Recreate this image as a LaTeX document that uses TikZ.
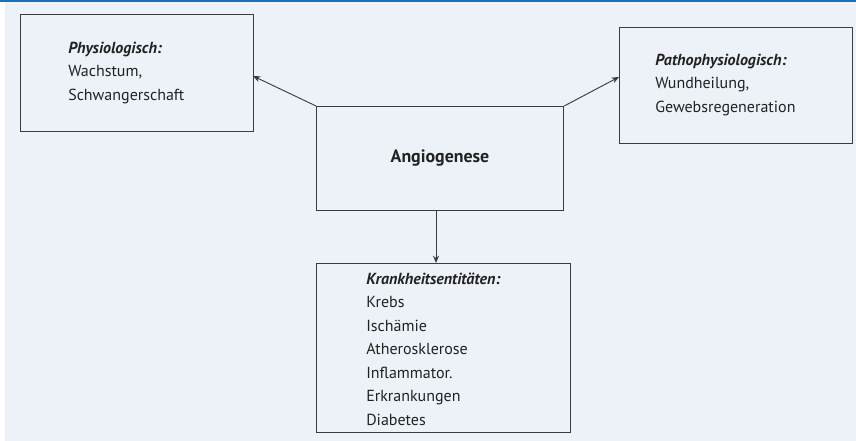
\documentclass[tikz,border=0pt]{standalone}
\usepackage{fontspec}
\setmainfont{PT Sans}
\usetikzlibrary{arrows.meta}
\definecolor{bgc}{HTML}{EDF2F9}
\definecolor{topc}{HTML}{1F6FB5}
\definecolor{linec}{HTML}{3C3C3C}
\definecolor{txtc}{HTML}{222222}
\tikzset{
  box/.style={draw=linec, line width=0.9pt, inner sep=0pt},
  lbl/.style={anchor=west, inner sep=0pt, text=txtc, font=\fontsize{12}{17.3}\selectfont, align=left},
  conn/.style={draw=linec, line width=0.7pt, -{Stealth[length=5.5pt,width=4.5pt]}}
}
\begin{document}
\begin{tikzpicture}[x=0.75pt,y=-0.75pt]
\useasboundingbox (0,0) rectangle (856,441);
\fill[white] (0,0) rectangle (856,441);
\fill[bgc] (5,0) rectangle (856,441);
\fill[topc] (0,0) rectangle (856,2);
% boxes
\node[box, minimum width=233*0.75pt, minimum height=117*0.75pt, anchor=north west] (phys) at (20,14) {};
\node[box, minimum width=247*0.75pt, minimum height=104*0.75pt, anchor=north west] (ang) at (316,106) {};
\node[box, minimum width=233*0.75pt, minimum height=116*0.75pt, anchor=north west] (path) at (619,27) {};
\node[box, minimum width=254*0.75pt, minimum height=169*0.75pt, anchor=north west] (kr) at (316,263) {};
% texts
\node[lbl] (tphys) at (68,73) {\textit{\textbf{Physiologisch:}}\\Wachstum,\\Schwangerschaft};
\node[lbl] (tpath) at (655,85) {\textit{\textbf{Pathophysiologisch:}}\\Wundheilung,\\Gewebsregeneration};
\node[inner sep=0pt, text=txtc, font=\fontsize{13.4}{17}\selectfont\bfseries] (tang) at (440,158) {Angiogenese};
\node[lbl, font=\fontsize{12}{17.6}\selectfont] (tkr) at (366,349) {\textit{\textbf{Krankheitsentitäten:}}\\Krebs\\Ischämie\\Atherosklerose\\Inflammator.\\Erkrankungen\\Diabetes};
% connectors
\coordinate (a1) at (ang.north west);
\coordinate (a2) at (ang.north east);
\coordinate (p1) at (253,76);
\coordinate (p2) at (619,77);
\draw[conn] (a1) -- (p1);
\draw[conn] (a2) -- (p2);
\draw[conn] (ang.south -| 436,0) -- (kr.north -| 436,0);
\end{tikzpicture}
\end{document}
